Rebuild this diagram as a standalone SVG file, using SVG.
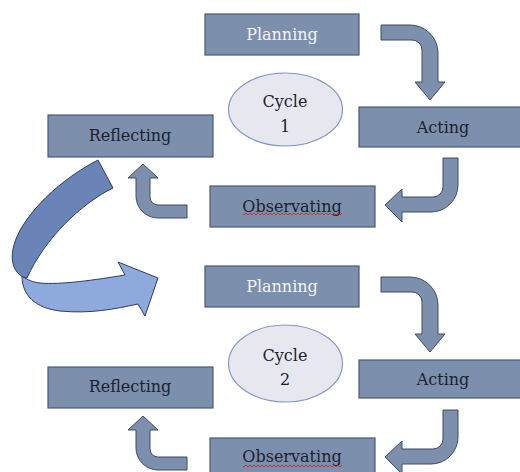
<svg xmlns="http://www.w3.org/2000/svg" width="520" height="472" viewBox="0 0 520 472">
<defs>
<style>
.box{fill:#7c8fad;stroke:#4b5a72;stroke-width:1.2}
.lbl{font-family:"DejaVu Serif","Liberation Serif",serif;font-size:16px;fill:#1c2130;text-anchor:middle}
.lbl.w{fill:#f4f4f6}
.cyc{fill:#e7e8ef;stroke:#8696c6;stroke-width:1.2}
.arr{fill:#7c8fad;stroke:#3e4c63;stroke-width:1}
.dark{fill:#6a84b8;stroke:#2e3c5a;stroke-width:1}
.light{fill:#8eaadc;stroke:#2e3c5a;stroke-width:1}
</style>
<pattern id="wave" width="4" height="4" patternUnits="userSpaceOnUse">
<path d="M0,3 L2,1 L4,3" fill="none" stroke="#d02828" stroke-width="0.9"/>
</pattern>
</defs>
<rect width="520" height="472" fill="#ffffff"/>

<g id="connectors">
<g id="cycle1-arrows">
<path class="arr" d="M381,25 H410 A28,28 0 0 1 438,53 V82 H445 L430,100 L415,82 H422 V50 A10,10 0 0 0 412,40 H381 Z"/>
<path class="arr" d="M443,158 H458 V185 A27,27 0 0 1 431,212 H402 V222 L385,205 L402,189 V197 H433 A10,10 0 0 0 443,187 Z"/>
<path class="arr" d="M187,205 V218 H158 A22,22 0 0 1 136,196 V178 H128 L143,164 L158,178 H150 V197 A8,8 0 0 0 158,205 Z"/>
</g>
<g id="cycle2-arrows" transform="translate(0,252)">
<path class="arr" d="M381,25 H410 A28,28 0 0 1 438,53 V82 H445 L430,100 L415,82 H422 V50 A10,10 0 0 0 412,40 H381 Z"/>
<path class="arr" d="M443,158 H458 V185 A27,27 0 0 1 431,212 H402 V222 L385,205 L402,189 V197 H433 A10,10 0 0 0 443,187 Z"/>
<path class="arr" d="M187,205 V218 H158 A22,22 0 0 1 136,196 V178 H128 L143,164 L158,178 H150 V197 A8,8 0 0 0 158,205 Z"/>
</g>
<g id="big-curved-arrow">
<path class="light" d="M22,276 C22,295 35,308 60,311 C90,314 115,309 138,304 L145,316 L158,278 L118,262 L125,275 C95,280 60,285 40,283 C32,282 28,280 22,276 Z"/>
<path class="dark" d="M98,160 L113,188 C82,203 45,238 27,278 C15,276 9,262 14,245 C20,222 50,185 98,160 Z"/>
</g>
</g>

<g id="planning1"><rect class="box" x="205" y="14" width="154" height="41"/><text class="lbl w" x="282" y="40">Planning</text></g>
<g id="acting1"><rect class="box" x="359" y="107" width="170" height="40"/><text class="lbl" x="443" y="133">Acting</text></g>
<g id="observating1"><rect class="box" x="210" y="186" width="165" height="41"/><text class="lbl" x="292" y="212">Observating</text><rect x="243" y="212" width="99" height="4" fill="url(#wave)"/></g>
<g id="reflecting1"><rect class="box" x="48" y="115" width="165" height="42"/><text class="lbl" x="130" y="141">Reflecting</text></g>
<g id="cycle1"><ellipse class="cyc" cx="285.5" cy="109.5" rx="57" ry="36.5"/><text class="lbl" x="285" y="107">Cycle</text><text class="lbl" x="285" y="132">1</text></g>

<g id="planning2"><rect class="box" x="205" y="266" width="154" height="41"/><text class="lbl w" x="282" y="292">Planning</text></g>
<g id="acting2"><rect class="box" x="359" y="360" width="170" height="38"/><text class="lbl" x="443" y="385">Acting</text></g>
<g id="observating2"><rect class="box" x="210" y="438" width="165" height="41"/><text class="lbl" x="292" y="462">Observating</text><rect x="243" y="463" width="99" height="4" fill="url(#wave)"/></g>
<g id="reflecting2"><rect class="box" x="48" y="367" width="165" height="41"/><text class="lbl" x="130" y="392">Reflecting</text></g>
<g id="cycle2"><ellipse class="cyc" cx="285.5" cy="363.5" rx="57" ry="38.5"/><text class="lbl" x="285" y="361">Cycle</text><text class="lbl" x="285" y="385">2</text></g>
</svg>
